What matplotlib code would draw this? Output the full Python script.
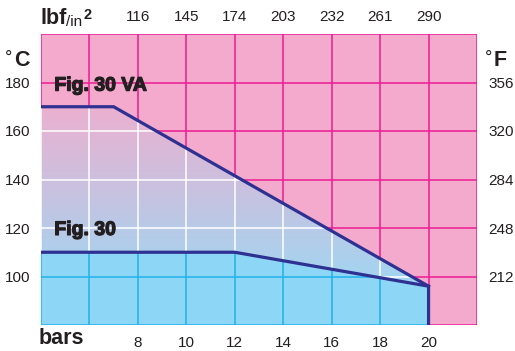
import matplotlib
matplotlib.use("Agg")
import matplotlib.pyplot as plt
import numpy as np
from matplotlib.patches import Polygon
from matplotlib.colors import LinearSegmentedColormap
import matplotlib.patheffects as pe

plt.rcParams['font.family'] = ['Liberation Sans', 'DejaVu Sans']

# ---- data ----
bar_ticks = [8, 10, 12, 14, 16, 18, 20]
psi_labels = ["116", "145", "174", "203", "232", "261", "290"]
c_ticks = [100, 120, 140, 160, 180]
f_labels = ["212", "248", "284", "320", "356"]
va_bars = [4, 7, 20]
va_temp = [170, 170, 96]
f30_bars = [4, 12, 20]
f30_temp = [110, 110, 96]
x_grid = [4, 6, 8, 10, 12, 14, 16, 18, 20, 22]
y_grid = [80, 100, 120, 140, 160, 180, 200]
xmin, xmax, ymin, ymax = 4, 22, 80, 200

PINK = "#f3aacd"
MAGENTA = "#ec1c94"
BLUE = "#8dd6f5"
CYAN = "#1fb3ea"
NAVY = "#2e3192"
TXT = "#231f20"

fig = plt.figure(figsize=(5.15, 3.51), dpi=100)
ax = fig.add_axes([41/515, 1-325/351, 436/515, 291/351])
ax.set_xlim(xmin, xmax)
ax.set_ylim(ymin, ymax)
ax.set_facecolor(PINK)
for s in ax.spines.values():
    s.set_visible(False)

def grid(color, zorder, clip=None):
    arts = []
    for x in x_grid:
        arts.append(ax.axvline(x, color=color, lw=1.1, zorder=zorder))
    for y in y_grid:
        arts.append(ax.axhline(y, color=color, lw=1.1, zorder=zorder))
    if clip is not None:
        for a in arts:
            a.set_clip_path(clip)

grid(MAGENTA, 1)

# gradient region between the two curves
grad_pts = list(zip(va_bars, va_temp)) + list(zip(f30_bars[::-1], f30_temp[::-1]))
grad_poly = Polygon(grad_pts, closed=True, facecolor='none', edgecolor='none')
ax.add_patch(grad_poly)
cmap = LinearSegmentedColormap.from_list("g", [(160/255, 214/255, 242/255), (236/255, 176/255, 208/255)])
gy = np.linspace(0, 1, 256).reshape(-1, 1)
im = ax.imshow(gy, cmap=cmap, origin='lower', aspect='auto',
               extent=[min(va_bars), max(va_bars), min(va_temp), max(va_temp)], zorder=2)
im.set_clip_path(grad_poly)
grid("white", 3, grad_poly)

# blue region under Fig. 30
blue_pts = [(f30_bars[0], ymin)] + list(zip(f30_bars, f30_temp)) + [(f30_bars[-1], ymin)]
blue_poly = Polygon(blue_pts, closed=True, facecolor=BLUE, edgecolor='none', zorder=4)
ax.add_patch(blue_poly)
grid(CYAN, 5, blue_poly)

ax.set_xlim(xmin, xmax)
ax.set_ylim(ymin, ymax)

# curves
ax.plot(va_bars, va_temp, color=NAVY, lw=2.3, zorder=6, solid_joinstyle='miter')
ax.plot(f30_bars + [f30_bars[-1]], f30_temp + [ymin], color=NAVY, lw=2.3, zorder=6,
        solid_joinstyle='miter')

heavy = [pe.withStroke(linewidth=0.9, foreground=TXT)]
ax.text(4.55, 178.5, "Fig. 30 VA", fontsize=14, fontweight='bold', color=TXT,
        va='center', ha='left', zorder=7, path_effects=heavy)
ax.text(4.55, 119, "Fig. 30", fontsize=14, fontweight='bold', color=TXT,
        va='center', ha='left', zorder=7, path_effects=heavy)

# axes ticks
ax.set_xticks(bar_ticks)
ax.set_xticklabels([str(b) for b in bar_ticks])
ax.set_yticks(c_ticks)
ax.set_yticklabels([str(c) for c in c_ticks])
ax.tick_params(length=0, labelsize=11, labelcolor=TXT, pad=8)

axt = ax.twiny()
axt.set_xlim(xmin, xmax)
axt.set_xticks(bar_ticks)
axt.set_xticklabels(psi_labels)
axt.tick_params(length=0, labelsize=11, labelcolor=TXT, pad=7)
axr = ax.twinx()
axr.set_ylim(ymin, ymax)
axr.set_yticks(c_ticks)
axr.set_yticklabels(f_labels)
axr.tick_params(length=0, labelsize=11, labelcolor=TXT, pad=8)
for a in (axt, axr):
    for s in a.spines.values():
        s.set_visible(False)

# unit labels
fig.text(39/515, 1-339/351, "bars", fontsize=15.5, fontweight='bold', color=TXT, va='center', ha='left')
fig.text(40/515, 1-19/351, "lbf", fontsize=15.5, fontweight='bold', color=TXT, va='center', ha='left')
fig.text(66/515, 1-22/351, "/in", fontsize=11, color=TXT, va='center', ha='left')
fig.text(83/515, 1-15/351, "2", fontsize=10.5, fontweight='bold', color=TXT, va='center', ha='left')
fig.text(5/515, 1-58/351, "°", fontsize=13, color=TXT, va='center', ha='left')
fig.text(14/515, 1-60/351, "C", fontsize=15.5, fontweight='bold', color=TXT, va='center', ha='left')
fig.text(485/515, 1-58/351, "°", fontsize=13, color=TXT, va='center', ha='left')
fig.text(494/515, 1-60/351, "F", fontsize=15.5, fontweight='bold', color=TXT, va='center', ha='left')

fig.savefig("out.png", dpi=100)
